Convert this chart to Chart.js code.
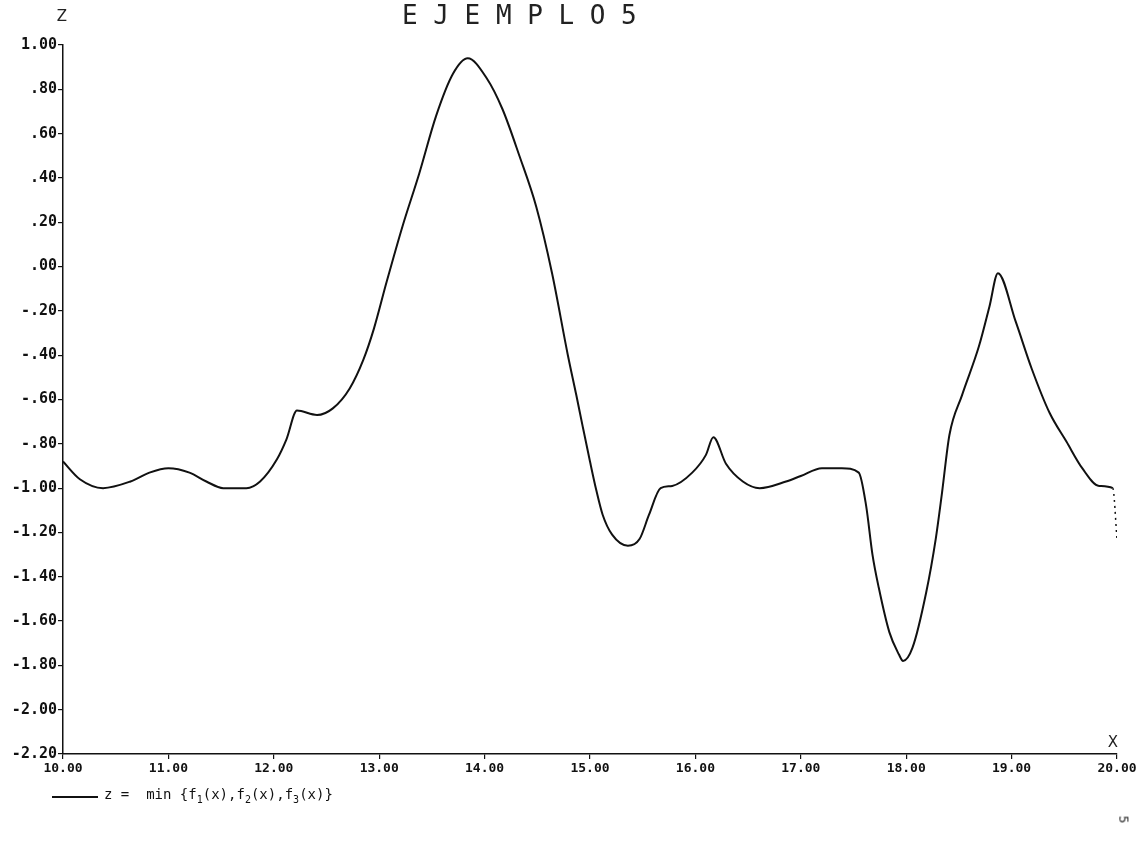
<!DOCTYPE html>
<html>
<head>
<meta charset="utf-8">
<script src="https://cdn.jsdelivr.net/npm/chart.js@4.4.1/dist/chart.umd.min.js"></script>
<style>
  html, body { margin: 0; padding: 0; background: #fff; }
  #wrap { position: relative; width: 1143px; height: 848px; }
  #legend { position: absolute; left: 52px; top: 786px; font-family: "DejaVu Sans Mono", monospace; font-size: 14px; color: #111; white-space: pre; }
  #legend .ln { display: inline-block; width: 46px; height: 0; border-top: 2px solid #111; vertical-align: middle; margin-right: 6px; position: relative; top: 2px; }
  #legend sub { font-size: 10px; }
  #pageno { position: absolute; left: 1120px; top: 812px; font-family: "DejaVu Sans Mono", monospace; font-size: 13px; color: #222; transform: rotate(90deg); }
</style>
</head>
<body>
<div id="wrap">
  <canvas id="c" width="1143" height="848"></canvas>
  <div id="legend"><span class="ln"></span>z =  min {f<sub>1</sub>(x),f<sub>2</sub>(x),f<sub>3</sub>(x)}</div>
  <div id="pageno">5</div>
</div>
<script>
// ---- data ----
const xs = [10.00, 10.16, 10.38, 10.64, 10.82, 11.00, 11.20, 11.36, 11.52, 11.74, 11.87, 12.03, 12.12, 12.22,
            12.41, 12.56, 12.72, 12.85, 12.95, 13.07, 13.22, 13.38, 13.54, 13.70, 13.84, 14.02, 14.17, 14.33,
            14.49, 14.64, 14.79, 14.87, 14.93, 15.00, 15.06, 15.12, 15.21, 15.36, 15.47, 15.56, 15.67, 15.78,
            15.97, 16.10, 16.17, 16.29, 16.45, 16.61, 16.86, 17.00, 17.20, 17.39, 17.55, 17.62, 17.68, 17.74,
            17.84, 17.93, 17.97, 18.06, 18.19, 18.28, 18.34, 18.41, 18.53, 18.69, 18.79, 18.87, 19.04, 19.19,
            19.36, 19.52, 19.67, 19.83, 19.96, 20.00];
const zs = [-0.88, -0.96, -1.00, -0.97, -0.93, -0.91, -0.93, -0.97, -1.00, -1.00, -0.97, -0.87, -0.78, -0.65,
            -0.67, -0.64, -0.55, -0.42, -0.28, -0.07, 0.18, 0.42, 0.68, 0.87, 0.94, 0.85, 0.71, 0.50,
            0.27, -0.03, -0.40, -0.58, -0.72, -0.88, -1.01, -1.12, -1.21, -1.26, -1.23, -1.12, -1.00, -0.99,
            -0.93, -0.85, -0.77, -0.89, -0.97, -1.00, -0.97, -0.945, -0.91, -0.91, -0.93, -1.08, -1.30, -1.45,
            -1.65, -1.75, -1.78, -1.72, -1.47, -1.23, -1.02, -0.76, -0.58, -0.36, -0.18, -0.03, -0.25, -0.46,
            -0.66, -0.79, -0.91, -0.99, -1.00, -1.23];
const xTickValues = [10, 11, 12, 13, 14, 15, 16, 17, 18, 19, 20];
const xTickLabels = ["10.00", "11.00", "12.00", "13.00", "14.00", "15.00", "16.00", "17.00", "18.00", "19.00", "20.00"];
const yTickValues = [-2.2, -2.0, -1.8, -1.6, -1.4, -1.2, -1.0, -0.8, -0.6, -0.4, -0.2, 0.0, 0.2, 0.4, 0.6, 0.8, 1.0];
const yTickLabels = ["-2.20", "-2.00", "-1.80", "-1.60", "-1.40", "-1.20", "-1.00", "-.80", "-.60", "-.40", "-.20",
                     ".00", ".20", ".40", ".60", ".80", "1.00"];
const titleText = "E J E M P L O 5";
const seriesLabel = "z = min {f1(x),f2(x),f3(x)}";

const points = xs.map((x, i) => ({ x: x, y: zs[i] }));
const lastIdx = points.length - 1;

const axisLabels = {
  id: 'axisLabels',
  afterDraw(chart) {
    const ctx = chart.ctx;
    const a = chart.chartArea;
    ctx.save();
    ctx.fillStyle = '#222';
    ctx.font = '15px "DejaVu Sans", sans-serif';
    ctx.textAlign = 'center';
    ctx.textBaseline = 'middle';
    ctx.fillText('Z', a.left - 1, 17);
    ctx.fillText('X', a.right - 4, a.bottom - 11);
    ctx.restore();
  }
};

new Chart(document.getElementById('c'), {
  type: 'line',
  data: {
    datasets: [{
      label: seriesLabel,
      data: points,
      borderColor: '#111',
      borderWidth: 2,
      pointRadius: 0,
      fill: false,
      cubicInterpolationMode: 'monotone',
      segment: {
        borderDash: ctx => ctx.p1DataIndex === lastIdx ? [2, 4] : undefined,
        borderWidth: ctx => ctx.p1DataIndex === lastIdx ? 1.5 : undefined
      }
    }]
  },
  options: {
    responsive: false,
    animation: false,
    layout: { padding: { top: 2, left: 0, right: 26, bottom: 64 } },
    plugins: {
      legend: { display: false },
      tooltip: { enabled: false },
      title: {
        display: true,
        text: titleText + '     ',
        color: '#222',
        font: { family: '"DejaVu Sans Mono", monospace', size: 26, weight: 'normal' },
        padding: { top: 0, bottom: 11.8 }
      }
    },
    scales: {
      x: {
        type: 'linear',
        min: 10, max: 20,
        afterFit: s => { s.height = 30; },
        afterBuildTicks: s => { s.ticks = xTickValues.map(v => ({ value: v })); },
        border: { display: true, color: '#111', width: 1.5 },
        grid: { display: true, drawOnChartArea: false, drawTicks: true, tickLength: 5, color: '#111', lineWidth: 1.2 },
        ticks: {
          autoSkip: false, maxRotation: 0, padding: 2, color: '#111',
          font: { family: '"DejaVu Sans Mono", monospace', size: 13, weight: 'bold' },
          callback: (v, i) => xTickLabels[i]
        }
      },
      y: {
        type: 'linear',
        min: -2.2, max: 1.0,
        afterFit: s => { s.width = 63; },
        afterBuildTicks: s => { s.ticks = yTickValues.map(v => ({ value: v })); },
        border: { display: true, color: '#111', width: 1.5 },
        grid: { display: true, drawOnChartArea: false, drawTicks: true, tickLength: 5, color: '#111', lineWidth: 1.2 },
        ticks: {
          autoSkip: false, padding: 1, color: '#111',
          font: { family: '"DejaVu Sans Mono", monospace', size: 15, weight: 'bold' },
          callback: (v, i) => yTickLabels[i]
        }
      }
    }
  },
  plugins: [axisLabels]
});
</script>
</body>
</html>
